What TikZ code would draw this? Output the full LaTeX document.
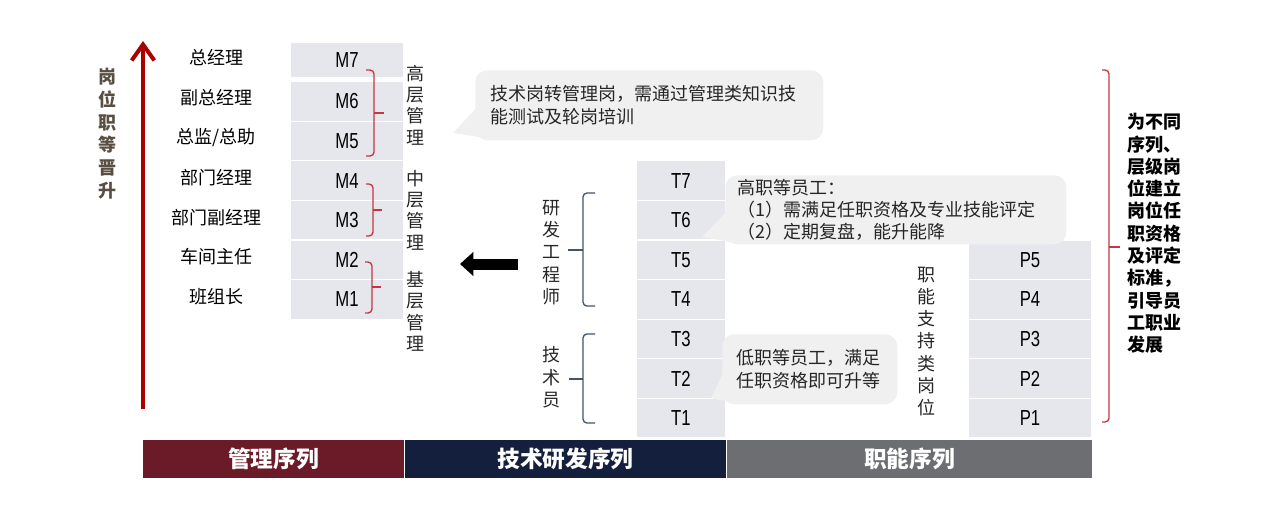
\documentclass[tikz,border=0pt]{standalone}
\usepackage{fontspec}
\setmainfont{Noto Sans CJK SC}
\newfontfamily\gradefont{Liberation Sans}[FakeStretch=0.77]
\usetikzlibrary{arrows.meta}
\definecolor{boxgrey}{RGB}{230,231,236}
\definecolor{bubblegrey}{RGB}{240,240,240}
\definecolor{mgmtred}{RGB}{107,26,39}
\definecolor{technavy}{RGB}{20,31,61}
\definecolor{funcgrey}{RGB}{109,110,113}
\definecolor{arrowred}{RGB}{170,0,0}
\definecolor{bracered}{RGB}{196,54,64}
\definecolor{braceslate}{RGB}{68,84,106}
\definecolor{ladderbrown}{RGB}{89,78,66}
\definecolor{textgrey}{RGB}{38,38,38}
\begin{document}
\begin{tikzpicture}[x=0.75pt,y=-0.75pt,
	gradebox/.style={fill=boxgrey,draw=white,line width=1pt,inner sep=0pt,font=\gradefont\fontsize{16.3pt}{18pt}\selectfont},
	mbox/.style={gradebox,minimum width=85.5pt,minimum height=29.7pt},
	tbox/.style={gradebox,minimum width=67.5pt,minimum height=29.7pt},
	pbox/.style={gradebox,minimum width=93pt,minimum height=29.7pt},
	vtext/.style={align=center,inner sep=0pt,text=textgrey,font=\fontsize{13.5pt}{16pt}\selectfont},
	bubble/.style={fill=bubblegrey,rounded corners=9pt,anchor=north west,align=left,inner ysep=2pt,text=textgrey,font=\fontsize{13.5pt}{16.8pt}\selectfont},
	seqbar/.style={minimum height=28.5pt,inner sep=0pt,text=white,font=\bfseries\fontsize{17pt}{20pt}\selectfont},
	redbrace/.style={draw=bracered,line width=1pt,rounded corners=3pt},
	slatebrace/.style={draw=braceslate,line width=1pt,rounded corners=3pt}]
	\useasboundingbox (0,0) rectangle (1269,529);
	\begin{scope}
		\tikzstyle{every node}=[font=\fontsize{13.5pt}{16pt}\selectfont,inner sep=0pt];
		\path (347, 60  ) node [mbox,minimum height=27pt] (m7) {M7};
		\path (347,101.4) node [mbox] (m6) {M6};
		\path (347,141  ) node [mbox] (m5) {M5};
		\path (347,180.6) node [mbox] (m4) {M4};
		\path (347,220.2) node [mbox] (m3) {M3};
		\path (347,259.8) node [mbox] (m2) {M2};
		\path (347,299.4) node [mbox] (m1) {M1};
		\path (216, 58) node (gm7) {总经理};
		\path (216, 98) node (gm6) {副总经理};
		\path (216,138) node (gm5) {总监/总助};
		\path (216,178) node (gm4) {部门经理};
		\path (216,218) node (gm3) {部门副经理};
		\path (216,257) node (gm2) {车间主任};
		\path (216,297) node (gm1) {班组长};
		\path (681,180.6) node [tbox] (t7) {T7};
		\path (681,220.2) node [tbox] (t6) {T6};
		\path (681,259.8) node [tbox] (t5) {T5};
		\path (681,299.4) node [tbox] (t4) {T4};
		\path (681,339  ) node [tbox] (t3) {T3};
		\path (681,378.6) node [tbox] (t2) {T2};
		\path (681,418.2) node [tbox] (t1) {T1};
		\path (1030,259.8) node [pbox] (p5) {P5};
		\path (1030,299.4) node [pbox] (p4) {P4};
		\path (1030,339  ) node [pbox] (p3) {P3};
		\path (1030,378.6) node [pbox] (p2) {P2};
		\path (1030,418.2) node [pbox] (p1) {P1};
	\end{scope}
	\path (107,133.5) node [vtext,text=ladderbrown,font=\bfseries\fontsize{13.5pt}{17pt}\selectfont] (ladder) {岗\\位\\职\\等\\晋\\升};
	\path (415,105  ) node [vtext] (senior) {高\\层\\管\\理};
	\path (415,210  ) node [vtext] (middle) {中\\层\\管\\理};
	\path (415,311.5) node [vtext] (junior) {基\\层\\管\\理};
	\path (551,252.5) node [vtext,font=\fontsize{13.5pt}{16.7pt}\selectfont] (engineer) {研\\发\\工\\程\\师};
	\path (551,377.5) node [vtext,font=\fontsize{13.5pt}{16.9pt}\selectfont] (technician) {技\\术\\员};
	\path (926,341.5) node [vtext,font=\fontsize{13.5pt}{16.6pt}\selectfont] (support) {职\\能\\支\\持\\类\\岗\\位};
	\path (1127,233.5) node [anchor=west,align=left,inner sep=0pt,font=\bfseries\fontsize{13.5pt}{16.7pt}\selectfont] (aim) {为不同\\序列、\\层级岗\\位建立\\岗位任\\职资格\\及评定\\标准，\\引导员\\工职业\\发展};

	\draw[redbrace] (366, 70) -- (374, 70) -- (374,156) -- (366,156);
	\draw[redbrace] (374,113) -- (384,113);
	\draw[redbrace] (366,184) -- (373,184) -- (373,236) -- (366,236);
	\draw[redbrace] (373,210) -- (382,210);
	\draw[redbrace] (365,262) -- (372,262) -- (372,313) -- (365,313);
	\draw[redbrace] (372,287) -- (381,287);
	\draw[slatebrace] (595,193) -- (583,193) -- (583,306) -- (595,306);
	\draw[slatebrace] (583,250) -- (568,250);
	\draw[slatebrace] (595,334) -- (583,334) -- (583,423) -- (595,423);
	\draw[slatebrace] (583,379) -- (569,379);
	\draw[redbrace] (1102,70) -- (1109,70) -- (1109,422) -- (1102,422);
	\draw[redbrace] (1109,247) -- (1120,247);

	\coordinate (ladder-low) at (143,409);
	\coordinate (ladder-top) at (143,41);
	\draw[arrowred,line width=3pt,-{Straight Barb[length=12pt,width=17pt]}] (ladder-low) -- (ladder-top);
	\coordinate (switch-from) at (518,264);
	\coordinate (switch-to) at (460,264);
	\draw[black,line width=8.25pt,-{Triangle[length=10pt,width=17.5pt]}] (switch-from) -- (switch-to);

	\fill[bubblegrey] (453,133) -- (476,108) -- (492,139) -- cycle;
	\path (475,70) node [bubble,minimum width=261pt,minimum height=52.5pt,inner xsep=11.25pt,text width=238.5pt] (transfer) {技术岗转管理岗，需通过管理类知识技\\能测试及轮岗培训};
	\fill[bubblegrey] (702,237) -- (727,211) -- (736,243) -- cycle;
	\path (725,175) node [bubble,minimum width=255.75pt,minimum height=51.75pt,inner xsep=9pt,text width=237.75pt] (highgrade) {高职等员工：\\（1）需满足任职资格及专业技能评定\\（2）定期复盘，能升能降};
	\fill[bubblegrey] (711,398) -- (724,371) -- (733,403) -- cycle;
	\path (722,334) node [bubble,minimum width=131.25pt,minimum height=52.5pt,inner xsep=10.5pt,text width=110.25pt] (lowgrade) {低职等员工，满足\\任职资格即可升等};

	\path (273.5,459) node [seqbar,fill=mgmtred,minimum width=195.75pt] (mgmtseq) {管理序列};
	\path (565.5,459) node [seqbar,fill=technavy,minimum width=240.75pt] (techseq) {技术研发序列};
	\path (909.5,459) node [seqbar,fill=funcgrey,minimum width=273.75pt] (funcseq) {职能序列};
\end{tikzpicture}
\end{document}
